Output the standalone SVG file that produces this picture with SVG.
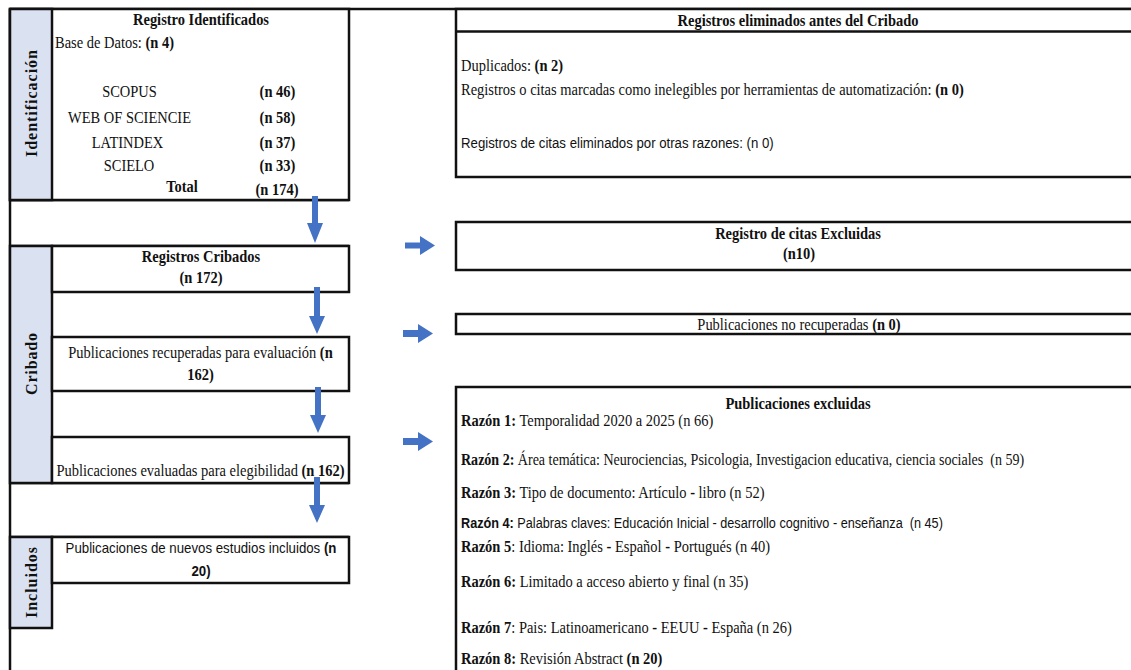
<svg xmlns="http://www.w3.org/2000/svg" width="1131" height="670" viewBox="0 0 1131 670">
<style>
.t{font-family:"Liberation Serif","Times New Roman",serif;font-size:16px;fill:#111}
.s{font-family:"Liberation Sans",Arial,sans-serif;font-size:14.5px;fill:#111}
.b{font-weight:bold}
.m{text-anchor:middle}
.box{fill:#fff;stroke:#111;stroke-width:2.5}
.side{fill:#dae1f1;stroke:#111;stroke-width:2.5}
.ln{stroke:#111;stroke-width:2.5;fill:none}
.arr{fill:#4472c4}
.lab{font-family:"Liberation Serif","Times New Roman",serif;font-size:16px;font-weight:bold;fill:#111;text-anchor:middle}
</style>
<rect width="1131" height="670" fill="#fff"/>
<g id="frame">
<line class="ln" x1="10" y1="9" x2="1131" y2="9"/>
<line class="ln" x1="10" y1="9" x2="10" y2="670"/>
<line class="ln" x1="10" y1="200" x2="349" y2="200"/>
<line class="ln" x1="10" y1="246" x2="349" y2="246"/>
<line class="ln" x1="10" y1="483" x2="349" y2="483"/>
<line class="ln" x1="10" y1="537" x2="349" y2="537"/>
</g>
<g id="identificacion">
<rect class="box" x="10" y="9" width="339" height="191"/>
<rect class="side" x="10" y="9" width="42" height="191"/>
<text class="lab" transform="translate(36.5,103.5) rotate(-90)" textLength="107" lengthAdjust="spacing">Identificación</text>
<text class="t b m" transform="translate(201,25) scale(0.905,1)">Registro Identificados</text>
<text class="t" transform="translate(55,48) scale(0.905,1)">Base de Datos: <tspan class="b">(n 4)</tspan></text>
<text class="t m" transform="translate(129.5,97) scale(0.905,1)">SCOPUS</text>
<text class="t m" transform="translate(129.5,123) scale(0.905,1)">WEB OF SCIENCIE</text>
<text class="t m" transform="translate(127.5,148) scale(0.905,1)">LATINDEX</text>
<text class="t m" transform="translate(129,171) scale(0.905,1)">SCIELO</text>
<text class="t b m" transform="translate(182,192) scale(0.905,1)">Total</text>
<text class="t b m" transform="translate(277.5,97) scale(0.905,1)">(n 46)</text>
<text class="t b m" transform="translate(277.5,123) scale(0.905,1)">(n 58)</text>
<text class="t b m" transform="translate(277.5,148) scale(0.905,1)">(n 37)</text>
<text class="t b m" transform="translate(277.5,171) scale(0.905,1)">(n 33)</text>
<text class="t b m" transform="translate(277,195) scale(0.905,1)">(n 174)</text>
</g>
<g id="cribado">
<rect class="side" x="10" y="246" width="42" height="237"/>
<text class="lab" transform="translate(36.5,364) rotate(-90)" textLength="62" lengthAdjust="spacing">Cribado</text>
</g>
<g id="registros-cribados">
<rect class="box" x="52" y="246" width="297" height="46"/>
<text class="t b m" transform="translate(201,262) scale(0.905,1)">Registros Cribados</text>
<text class="t b m" transform="translate(201,283) scale(0.905,1)">(n 172)</text>
</g>
<g id="publicaciones-recuperadas">
<rect class="box" x="52" y="337" width="297" height="54"/>
<text class="t m" transform="translate(200.5,358) scale(0.905,1)">Publicaciones recuperadas para evaluación <tspan class="b">(n</tspan></text>
<text class="t b m" transform="translate(200.5,380) scale(0.905,1)">162)</text>
</g>
<g id="publicaciones-evaluadas">
<rect class="box" x="52" y="437" width="297" height="46"/>
<text class="t m" transform="translate(200.5,476) scale(0.905,1)">Publicaciones evaluadas para elegibilidad <tspan class="b">(n 162)</tspan></text>
</g>
<g id="incluidos">
<rect class="side" x="10" y="537" width="42" height="91"/>
<text class="lab" transform="translate(36.5,582.5) rotate(-90)" textLength="71" lengthAdjust="spacing">Incluidos</text>
</g>
<g id="nuevos-estudios">
<rect class="box" x="52" y="537" width="297" height="46"/>
<text class="s m" transform="translate(201,553) scale(0.914,1)">Publicaciones de nuevos estudios incluidos <tspan class="b">(n</tspan></text>
<text class="s b m" transform="translate(201,576) scale(0.914,1)">20)</text>
</g>
<g id="registros-eliminados">
<rect class="box" x="456" y="9" width="690" height="168"/>
<line class="ln" x1="456" y1="31.5" x2="1131" y2="31.5"/>
<text class="t b m" transform="translate(798,26) scale(0.905,1)">Registros eliminados antes del Cribado</text>
<text class="t" transform="translate(461,71) scale(0.905,1)">Duplicados: <tspan class="b">(n 2)</tspan></text>
<text class="t" transform="translate(461,95) scale(0.905,1)">Registros o citas marcadas como inelegibles por herramientas de automatización: <tspan class="b">(n 0)</tspan></text>
<text class="s" transform="translate(461,148) scale(0.912,1)">Registros de citas eliminados por otras razones: (n 0)</text>
</g>
<g id="citas-excluidas">
<rect class="box" x="456" y="222" width="690" height="48"/>
<text class="t b m" transform="translate(798,239) scale(0.905,1)">Registro de citas Excluidas</text>
<text class="t b m" transform="translate(799,259) scale(0.905,1)">(n10)</text>
</g>
<g id="no-recuperadas">
<rect class="box" x="456" y="314" width="690" height="20"/>
<text class="t m" transform="translate(799,329.5) scale(0.905,1)">Publicaciones no recuperadas <tspan class="b">(n 0)</tspan></text>
</g>
<g id="publicaciones-excluidas">
<rect class="box" x="456" y="387" width="690" height="300"/>
<text class="t b m" transform="translate(798,409) scale(0.905,1)">Publicaciones excluidas</text>
<text class="t" transform="translate(461,426) scale(0.905,1)"><tspan class="b">Razón 1:</tspan> Temporalidad 2020 a 2025 (n 66)</text>
<text class="t" xml:space="preserve" transform="translate(461,465) scale(0.877,1)"><tspan class="b">Razón 2:</tspan> Área temática: Neurociencias, Psicologia, Investigacion educativa, ciencia sociales  (n 59)</text>
<text class="t" transform="translate(461,498) scale(0.905,1)"><tspan class="b">Razón 3:</tspan> Tipo de documento: Artículo <tspan class="b">-</tspan> libro (n 52)</text>
<text class="s" xml:space="preserve" transform="translate(461,528) scale(0.875,1)"><tspan class="b">Razón 4:</tspan> Palabras claves: Educación Inicial - desarrollo cognitivo - enseñanza  (n 45)</text>
<text class="t" transform="translate(461,552) scale(0.905,1)"><tspan class="b">Razón 5</tspan>: Idioma: Inglés <tspan class="b">-</tspan> Español <tspan class="b">-</tspan> Portugués (n 40)</text>
<text class="t" transform="translate(461,587) scale(0.905,1)"><tspan class="b">Razón 6:</tspan> Limitado a acceso abierto y final (n 35)</text>
<text class="t" transform="translate(461,633) scale(0.905,1)"><tspan class="b">Razón 7</tspan>: Pais: Latinoamericano <tspan class="b">-</tspan> EEUU <tspan class="b">-</tspan> España (n 26)</text>
<text class="t" transform="translate(461,664) scale(0.905,1)"><tspan class="b">Razón 8:</tspan> Revisión Abstract <tspan class="b">(n 20)</tspan></text>
</g>
<g id="connectors">
<polygon class="arr" points="312,196 318,196 318,223 323,223 315,243 307,223 312,223"/>
<polygon class="arr" points="314,287 320,287 320,316 325,316 317,334 309,316 314,316"/>
<polygon class="arr" points="315,387 321,387 321,415 326,415 318,433 310,415 315,415"/>
<polygon class="arr" points="314,477 320,477 320,505 325,505 317,523 309,505 314,505"/>
<polygon class="arr" points="405,242.5 420,242.5 420,236 435,245.5 420,255 420,248.5 405,248.5"/>
<polygon class="arr" points="403,330 418,330 418,324 433,333.5 418,343 418,337 403,337"/>
<polygon class="arr" points="403,438 418,438 418,432 433,441.5 418,451 418,445 403,445"/>
</g>
</svg>
